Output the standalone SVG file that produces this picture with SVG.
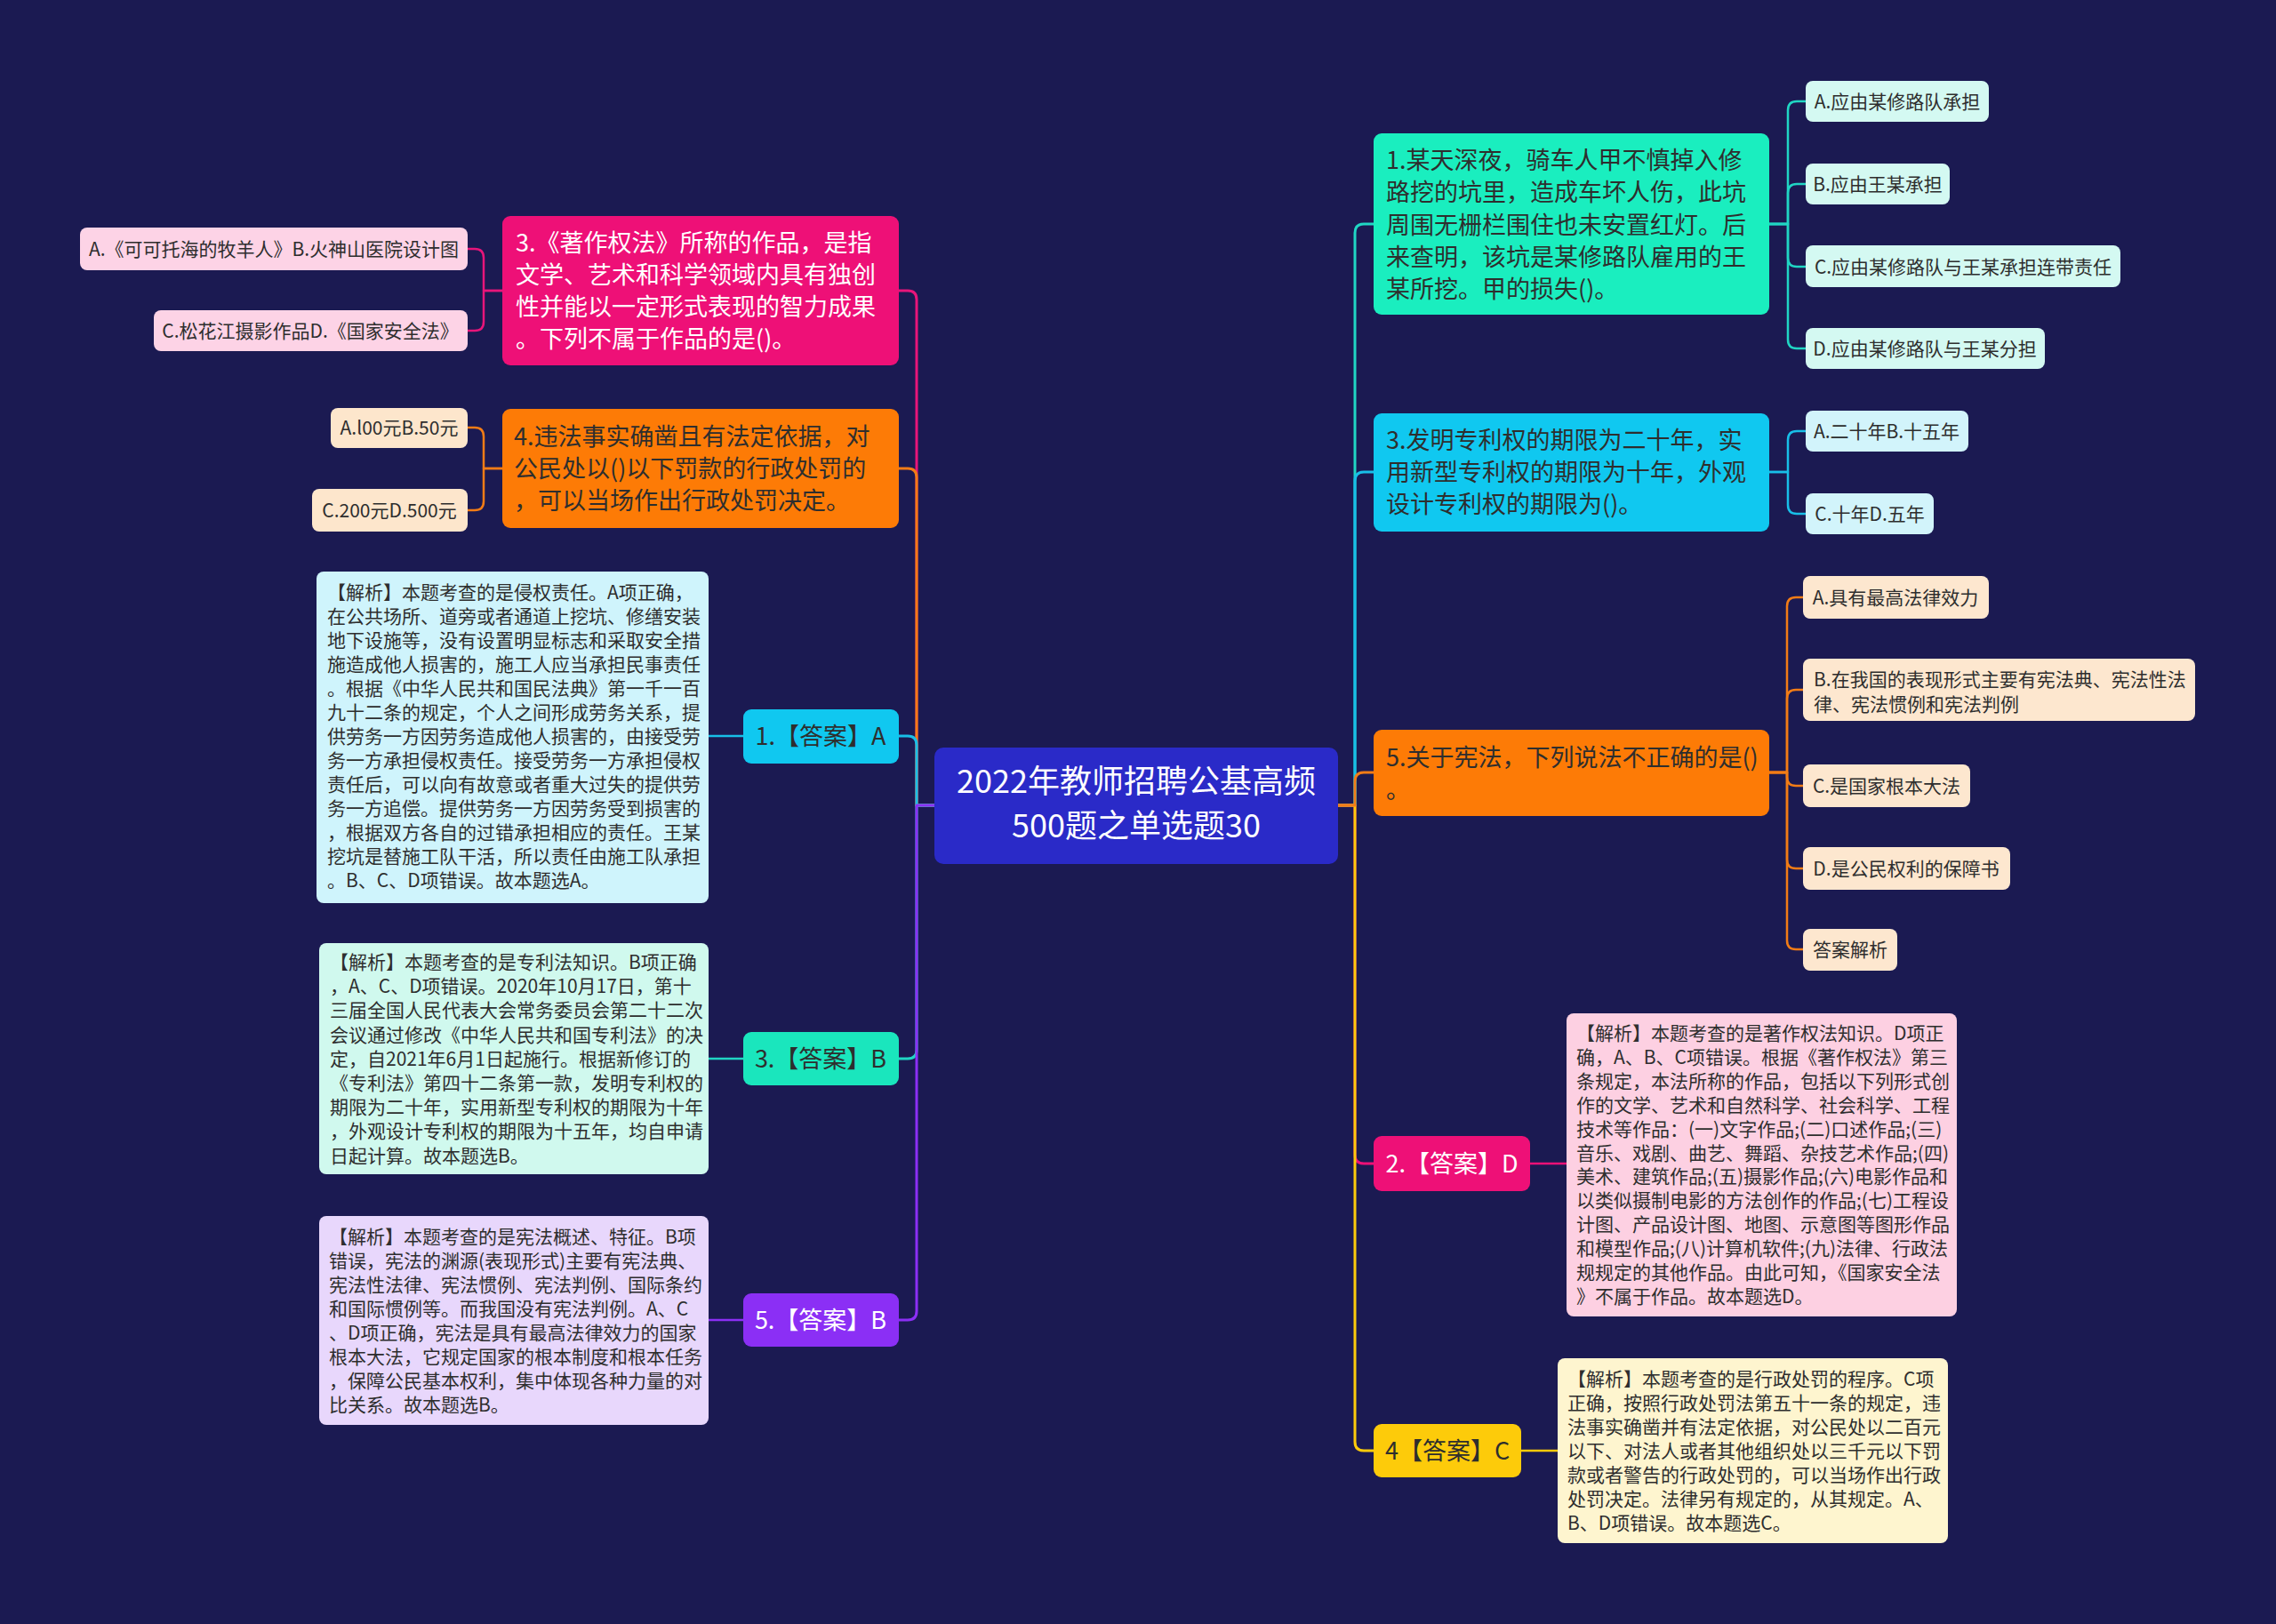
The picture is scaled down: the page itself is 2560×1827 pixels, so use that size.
<svg xmlns="http://www.w3.org/2000/svg" width="2560" height="1827" viewBox="0 0 2560 1827">
<style>
text{font-family:"Noto Sans CJK SC","Noto Sans",sans-serif;}
.t27{font-size:27px;}
.t21{font-size:21px;}
.dk{fill:#2e2e2e;}
.wt{fill:#ffffff;}
.mid{text-anchor:middle;}
.c{fill:none;stroke-width:3;stroke-linecap:round;stroke-linejoin:round;}
.s{fill:none;stroke-width:2.5;stroke-linecap:round;stroke-linejoin:round;}
</style>
<rect x="0" y="0" width="2560" height="1827" fill="#1b1a52"/>

<g id="connectors">
  <!-- left main -->
  <path class="c" stroke="#e8157a" d="M1051,906 H1031 V337 Q1031,327 1021,327 H1011"/>
  <path class="c" stroke="#f27c16" d="M1051,906 H1031 V537 Q1031,527 1021,527 H1011"/>
  <path class="c" stroke="#18bfe8" d="M1051,906 H1031 V838 Q1031,828 1021,828 H1011"/>
  <path class="c" stroke="#20d6c4" d="M1051,906 H1031 V1181 Q1031,1191 1021,1191 H1011"/>
  <path class="c" stroke="#8b2ff5" d="M1051,906 H1031 V1475 Q1031,1485 1021,1485 H1011"/>
  <!-- right main -->
  <path class="c" stroke="#20d6c4" d="M1504,906 H1524 V262 Q1524,252 1534,252 H1545"/>
  <path class="c" stroke="#18bfe8" d="M1504,906 H1524 V541 Q1524,531 1534,531 H1545"/>
  <path class="c" stroke="#ee1077" d="M1504,906 H1524 V1299 Q1524,1309 1534,1309 H1545"/>
  <path class="c" stroke="#fdcb0a" d="M1504,906 H1524 V1622 Q1524,1632 1534,1632 H1545"/>
  <path class="c" stroke="#f27c16" d="M1504,906 H1524 V879 Q1524,869 1534,869 H1545"/>
  <!-- left sub -->
  <path class="s" stroke="#e8157a" d="M565,327 H544 V290 Q544,280 534,280 H526"/>
  <path class="s" stroke="#e8157a" d="M565,327 H544 V362 Q544,372 534,372 H526"/>
  <path class="s" stroke="#f27c16" d="M565,527 H544 V491 Q544,481 534,481 H526"/>
  <path class="s" stroke="#f27c16" d="M565,527 H544 V564 Q544,574 534,574 H526"/>
  <path class="s" stroke="#18bfe8" d="M836,828 H797"/>
  <path class="s" stroke="#20d6c4" d="M836,1191 H797"/>
  <path class="s" stroke="#8b2ff5" d="M836,1485 H797"/>
  <!-- right sub -->
  <path class="s" stroke="#20d6c4" d="M1990,252 H2011 V124 Q2011,114 2021,114 H2031"/>
  <path class="s" stroke="#20d6c4" d="M1990,252 H2011 V217 Q2011,207 2021,207 H2031"/>
  <path class="s" stroke="#20d6c4" d="M1990,252 H2011 V290 Q2011,300 2021,300 H2031"/>
  <path class="s" stroke="#20d6c4" d="M1990,252 H2011 V382 Q2011,392 2021,392 H2031"/>
  <path class="s" stroke="#18bfe8" d="M1990,531 H2011 V495 Q2011,485 2021,485 H2031"/>
  <path class="s" stroke="#18bfe8" d="M1990,531 H2011 V568 Q2011,578 2021,578 H2031"/>
  <path class="s" stroke="#f27c16" d="M1990,869 H2010 V682 Q2010,672 2020,672 H2028"/>
  <path class="s" stroke="#f27c16" d="M1990,869 H2010 V786 Q2010,776 2020,776 H2028"/>
  <path class="s" stroke="#f27c16" d="M1990,869 H2010 V874 Q2010,884 2020,884 H2028"/>
  <path class="s" stroke="#f27c16" d="M1990,869 H2010 V967 Q2010,977 2020,977 H2028"/>
  <path class="s" stroke="#f27c16" d="M1990,869 H2010 V1058 Q2010,1068 2020,1068 H2028"/>
  <path class="s" stroke="#ee1077" d="M1721,1309 H1762"/>
  <path class="s" stroke="#fdcb0a" d="M1711,1632 H1752"/>
</g>

<g id="root">
  <rect x="1051" y="841" width="454" height="131" rx="10" fill="#2a2ac8"/>
  <text class="wt mid" font-size="36" x="1278" y="892">2022年教师招聘公基高频</text>
  <text class="wt mid" font-size="36" x="1278" y="942">500题之单选题30</text>
</g>

<!-- LEFT -->
<g id="q3">
  <rect x="565" y="243" width="446" height="168" rx="9" fill="#ee1077"/>
  <text class="t27 wt" x="580" y="283">3.《著作权法》所称的作品，是指</text>
  <text class="t27 wt" x="580" y="319">文学、艺术和科学领域内具有独创</text>
  <text class="t27 wt" x="580" y="355">性并能以一定形式表现的智力成果</text>
  <text class="t27 wt" x="580" y="391">。下列不属于作品的是()。</text>
</g>
<g id="q3a">
  <rect x="90" y="256" width="436" height="48" rx="8" fill="#fdd3e6"/>
  <text class="t21 dk mid" x="308" y="288">A.《可可托海的牧羊人》B.火神山医院设计图</text>
</g>
<g id="q3c">
  <rect x="173" y="349" width="353" height="46" rx="8" fill="#fdd3e6"/>
  <text class="t21 dk mid" x="349" y="380">C.松花江摄影作品D.《国家安全法》</text>
</g>

<g id="q4">
  <rect x="565" y="460" width="446" height="134" rx="9" fill="#fd7b06"/>
  <text class="t27 dk" x="578" y="501">4.违法事实确凿且有法定依据，对</text>
  <text class="t27 dk" x="578" y="537">公民处以()以下罚款的行政处罚的</text>
  <text class="t27 dk" x="578" y="573">，可以当场作出行政处罚决定。</text>
</g>
<g id="q4a">
  <rect x="372" y="459" width="154" height="45" rx="8" fill="#fde6cc"/>
  <text class="t21 dk mid" x="449" y="489">A.l00元B.50元</text>
</g>
<g id="q4c">
  <rect x="351" y="550" width="175" height="48" rx="8" fill="#fde6cc"/>
  <text class="t21 dk mid" x="438" y="582">C.200元D.500元</text>
</g>

<g id="a1">
  <rect x="836" y="798" width="175" height="61" rx="9" fill="#10c8f0"/>
  <text class="t27 dk mid" x="923" y="838">1.【答案】A</text>
</g>
<g id="a1x">
  <rect x="356" y="643" width="441" height="373" rx="8" fill="#cff4fc"/>
  <text class="t21 dk" x="368" y="674">
    <tspan x="368" dy="0">【解析】本题考查的是侵权责任。A项正确，</tspan>
    <tspan x="368" dy="27">在公共场所、道旁或者通道上挖坑、修缮安装</tspan>
    <tspan x="368" dy="27">地下设施等，没有设置明显标志和采取安全措</tspan>
    <tspan x="368" dy="27">施造成他人损害的，施工人应当承担民事责任</tspan>
    <tspan x="368" dy="27">。根据《中华人民共和国民法典》第一千一百</tspan>
    <tspan x="368" dy="27">九十二条的规定，个人之间形成劳务关系，提</tspan>
    <tspan x="368" dy="27">供劳务一方因劳务造成他人损害的，由接受劳</tspan>
    <tspan x="368" dy="27">务一方承担侵权责任。接受劳务一方承担侵权</tspan>
    <tspan x="368" dy="27">责任后，可以向有故意或者重大过失的提供劳</tspan>
    <tspan x="368" dy="27">务一方追偿。提供劳务一方因劳务受到损害的</tspan>
    <tspan x="368" dy="27">，根据双方各自的过错承担相应的责任。王某</tspan>
    <tspan x="368" dy="27">挖坑是替施工队干活，所以责任由施工队承担</tspan>
    <tspan x="368" dy="27">。B、C、D项错误。故本题选A。</tspan>
  </text>
</g>

<g id="a3">
  <rect x="836" y="1161" width="175" height="60" rx="9" fill="#1ae6bd"/>
  <text class="t27 dk mid" x="923" y="1201">3.【答案】B</text>
</g>
<g id="a3x">
  <rect x="359" y="1061" width="438" height="260" rx="8" fill="#d0f9ee"/>
  <text class="t21 dk" x="371" y="1090">
    <tspan x="371" dy="0">【解析】本题考查的是专利法知识。B项正确</tspan>
    <tspan x="371" dy="27.2">，A、C、D项错误。2020年10月17日，第十</tspan>
    <tspan x="371" dy="27.2">三届全国人民代表大会常务委员会第二十二次</tspan>
    <tspan x="371" dy="27.2">会议通过修改《中华人民共和国专利法》的决</tspan>
    <tspan x="371" dy="27.2">定，自2021年6月1日起施行。根据新修订的</tspan>
    <tspan x="371" dy="27.2">《专利法》第四十二条第一款，发明专利权的</tspan>
    <tspan x="371" dy="27.2">期限为二十年，实用新型专利权的期限为十年</tspan>
    <tspan x="371" dy="27.2">，外观设计专利权的期限为十五年，均自申请</tspan>
    <tspan x="371" dy="27.2">日起计算。故本题选B。</tspan>
  </text>
</g>

<g id="a5">
  <rect x="836" y="1455" width="175" height="60" rx="9" fill="#8b2ff5"/>
  <text class="t27 wt mid" x="923" y="1495">5.【答案】B</text>
</g>
<g id="a5x">
  <rect x="359" y="1368" width="438" height="235" rx="8" fill="#e8d7fc"/>
  <text class="t21 dk" x="370" y="1399">
    <tspan x="370" dy="0">【解析】本题考查的是宪法概述、特征。B项</tspan>
    <tspan x="370" dy="27">错误，宪法的渊源(表现形式)主要有宪法典、</tspan>
    <tspan x="370" dy="27">宪法性法律、宪法惯例、宪法判例、国际条约</tspan>
    <tspan x="370" dy="27">和国际惯例等。而我国没有宪法判例。A、C</tspan>
    <tspan x="370" dy="27">、D项正确，宪法是具有最高法律效力的国家</tspan>
    <tspan x="370" dy="27">根本大法，它规定国家的根本制度和根本任务</tspan>
    <tspan x="370" dy="27">，保障公民基本权利，集中体现各种力量的对</tspan>
    <tspan x="370" dy="27">比关系。故本题选B。</tspan>
  </text>
</g>

<!-- RIGHT -->
<g id="q1">
  <rect x="1545" y="150" width="445" height="204" rx="9" fill="#1aeebf"/>
  <text class="t27 dk" x="1559" y="190">1.某天深夜，骑车人甲不慎掉入修</text>
  <text class="t27 dk" x="1559" y="226">路挖的坑里，造成车坏人伤，此坑</text>
  <text class="t27 dk" x="1559" y="263">周围无栅栏围住也未安置红灯。后</text>
  <text class="t27 dk" x="1559" y="299">来查明，该坑是某修路队雇用的王</text>
  <text class="t27 dk" x="1559" y="335">某所挖。甲的损失()。</text>
</g>
<g id="q1a">
  <rect x="2031" y="91" width="206" height="46" rx="8" fill="#d4f9f2"/>
  <text class="t21 dk mid" x="2134" y="122">A.应由某修路队承担</text>
</g>
<g id="q1b">
  <rect x="2031" y="184" width="162" height="46" rx="8" fill="#d4f9f2"/>
  <text class="t21 dk mid" x="2112" y="215">B.应由王某承担</text>
</g>
<g id="q1c">
  <rect x="2031" y="276" width="354" height="47" rx="8" fill="#d4f9f2"/>
  <text class="t21 dk mid" x="2208" y="308">C.应由某修路队与王某承担连带责任</text>
</g>
<g id="q1d">
  <rect x="2031" y="369" width="269" height="46" rx="8" fill="#d4f9f2"/>
  <text class="t21 dk mid" x="2165" y="400">D.应由某修路队与王某分担</text>
</g>

<g id="q3r">
  <rect x="1545" y="465" width="445" height="133" rx="9" fill="#10c8f0"/>
  <text class="t27 dk" x="1559" y="505">3.发明专利权的期限为二十年，实</text>
  <text class="t27 dk" x="1559" y="541">用新型专利权的期限为十年，外观</text>
  <text class="t27 dk" x="1559" y="577">设计专利权的期限为()。</text>
</g>
<g id="q3ra">
  <rect x="2031" y="462" width="183" height="46" rx="8" fill="#d2f4fb"/>
  <text class="t21 dk mid" x="2122" y="493">A.二十年B.十五年</text>
</g>
<g id="q3rc">
  <rect x="2031" y="555" width="144" height="46" rx="8" fill="#d2f4fb"/>
  <text class="t21 dk mid" x="2103" y="586">C.十年D.五年</text>
</g>

<g id="q5">
  <rect x="1545" y="821" width="445" height="97" rx="9" fill="#fd7b06"/>
  <text class="t27 dk" x="1559" y="862">5.关于宪法，下列说法不正确的是()</text>
  <text class="t27 dk" x="1559" y="898">。</text>
</g>
<g id="q5a">
  <rect x="2028" y="648" width="209" height="48" rx="8" fill="#fde7cf"/>
  <text class="t21 dk mid" x="2132" y="680">A.具有最高法律效力</text>
</g>
<g id="q5b">
  <rect x="2028" y="741" width="441" height="70" rx="8" fill="#fde7cf"/>
  <text class="t21 dk" x="2040" y="772">B.在我国的表现形式主要有宪法典、宪法性法</text>
  <text class="t21 dk" x="2040" y="800">律、宪法惯例和宪法判例</text>
</g>
<g id="q5c">
  <rect x="2028" y="860" width="188" height="48" rx="8" fill="#fde7cf"/>
  <text class="t21 dk mid" x="2122" y="892">C.是国家根本大法</text>
</g>
<g id="q5d">
  <rect x="2028" y="953" width="233" height="48" rx="8" fill="#fde7cf"/>
  <text class="t21 dk mid" x="2144" y="985">D.是公民权利的保障书</text>
</g>
<g id="q5e">
  <rect x="2028" y="1045" width="106" height="47" rx="8" fill="#fde7cf"/>
  <text class="t21 dk mid" x="2081" y="1076">答案解析</text>
</g>

<g id="a2">
  <rect x="1545" y="1278" width="176" height="62" rx="9" fill="#ee1077"/>
  <text class="t27 wt mid" x="1633" y="1319">2.【答案】D</text>
</g>
<g id="a2x">
  <rect x="1762" y="1140" width="439" height="341" rx="8" fill="#fdd0e2"/>
  <text class="t21 dk" x="1773" y="1170">
    <tspan x="1773" dy="0">【解析】本题考查的是著作权法知识。D项正</tspan>
    <tspan x="1773" dy="26.9">确，A、B、C项错误。根据《著作权法》第三</tspan>
    <tspan x="1773" dy="26.9">条规定，本法所称的作品，包括以下列形式创</tspan>
    <tspan x="1773" dy="26.9">作的文学、艺术和自然科学、社会科学、工程</tspan>
    <tspan x="1773" dy="26.9">技术等作品：(一)文字作品;(二)口述作品;(三)</tspan>
    <tspan x="1773" dy="26.9">音乐、戏剧、曲艺、舞蹈、杂技艺术作品;(四)</tspan>
    <tspan x="1773" dy="26.9">美术、建筑作品;(五)摄影作品;(六)电影作品和</tspan>
    <tspan x="1773" dy="26.9">以类似摄制电影的方法创作的作品;(七)工程设</tspan>
    <tspan x="1773" dy="26.9">计图、产品设计图、地图、示意图等图形作品</tspan>
    <tspan x="1773" dy="26.9">和模型作品;(八)计算机软件;(九)法律、行政法</tspan>
    <tspan x="1773" dy="26.9">规规定的其他作品。由此可知，《国家安全法</tspan>
    <tspan x="1773" dy="26.9">》不属于作品。故本题选D。</tspan>
  </text>
</g>

<g id="a4">
  <rect x="1545" y="1602" width="166" height="60" rx="9" fill="#fdcb0a"/>
  <text class="t27 dk mid" x="1628" y="1642">4【答案】C</text>
</g>
<g id="a4x">
  <rect x="1752" y="1528" width="439" height="208" rx="8" fill="#fef5cf"/>
  <text class="t21 dk" x="1763" y="1559">
    <tspan x="1763" dy="0">【解析】本题考查的是行政处罚的程序。C项</tspan>
    <tspan x="1763" dy="27">正确，按照行政处罚法第五十一条的规定，违</tspan>
    <tspan x="1763" dy="27">法事实确凿并有法定依据，对公民处以二百元</tspan>
    <tspan x="1763" dy="27">以下、对法人或者其他组织处以三千元以下罚</tspan>
    <tspan x="1763" dy="27">款或者警告的行政处罚的，可以当场作出行政</tspan>
    <tspan x="1763" dy="27">处罚决定。法律另有规定的，从其规定。A、</tspan>
    <tspan x="1763" dy="27">B、D项错误。故本题选C。</tspan>
  </text>
</g>
</svg>
